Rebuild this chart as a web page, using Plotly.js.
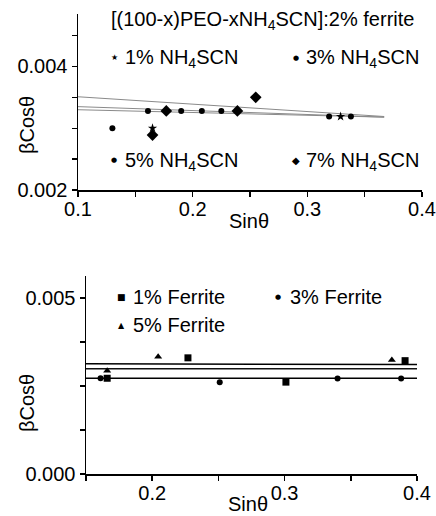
<!DOCTYPE html>
<html><head><meta charset="utf-8">
<script src="https://cdn.plot.ly/plotly-3.0.1.min.js"></script>
<style>html,body{margin:0;padding:0;background:#fff}</style>
</head><body><div id="c" style="width:436px;height:516px"></div>
<script>
// ---- Top panel data: [(100-x)PEO-xNH4SCN]:2% ferrite ----
const nh1_x = [0.165, 0.329];
const nh1_y = [0.00300, 0.00319];
const nh3_x = [0.130, 0.161, 0.190, 0.225, 0.319];
const nh3_y = [0.00300, 0.00328, 0.00328, 0.00328, 0.00319];
const nh5_x = [0.177, 0.208, 0.239, 0.338];
const nh5_y = [0.00328, 0.00328, 0.00328, 0.00319];
const nh7_x = [0.165, 0.177, 0.239, 0.255];
const nh7_y = [0.00289, 0.00328, 0.00328, 0.00350];
const fitTop_x = [0.100, 0.367];
const fitTopA_y = [0.00351, 0.00319];
const fitTopB_y = [0.00335, 0.00318];
const fitTopC_y = [0.00330, 0.00318];
const topXTicks = [0.1, 0.2, 0.3, 0.4];
const topXText = ['0.1', '0.2', '0.3', '0.4'];
const topXMinor = [0.15, 0.25, 0.35];
const topYTicks = [0.002, 0.004];
const topYText = ['0.002', '0.004'];
const topYMinor = [0.0025, 0.003, 0.0035, 0.0045];

// ---- Bottom panel data: ferrite content ----
const fe1_x = [0.166, 0.227, 0.301, 0.391];
const fe1_y = [0.00272, 0.00330, 0.00261, 0.00322];
const fe3_x = [0.161, 0.251, 0.340, 0.388];
const fe3_y = [0.00272, 0.00261, 0.00271, 0.00271];
const fe5_x = [0.166, 0.2045, 0.381];
const fe5_y = [0.00293, 0.00333, 0.00324];
const fitBot_x = [0.15, 0.40];
const fitBotA_y = [0.00313, 0.00311];
const fitBotB_y = [0.00299, 0.00299];
const fitBotC_y = [0.00272, 0.00272];
const botXTicks = [0.2, 0.3, 0.4];
const botXText = ['0.2', '0.3', '0.4'];
const botXMinor = [0.15, 0.25, 0.35];
const botYTicks = [0, 0.005];
const botYText = ['0.000', '0.005'];
const botYMinor = [0.00125, 0.0025, 0.00375];

const W = 436, H = 516;
const FONT = 'Liberation Sans, Arial, Helvetica, sans-serif';
const px = v => v / W;
const py = v => (H - v) / H;

function pts(x, y, xa, ya, sym, size) {
  return {x, y, xaxis: xa, yaxis: ya, type: 'scatter', mode: 'markers', cliponaxis: false,
    marker: {symbol: sym, size: size, color: '#000', line: {width: 0}}, showlegend: false};
}
function fit(x, y, xa, ya, color, w) {
  return {x, y, xaxis: xa, yaxis: ya, type: 'scatter', mode: 'lines',
    line: {color: color, width: w}, showlegend: false, hoverinfo: 'skip'};
}

const traces = [
  fit(fitTop_x, fitTopA_y, 'x', 'y', '#8a8a8a', 1),
  fit(fitTop_x, fitTopB_y, 'x', 'y', '#8a8a8a', 1),
  fit(fitTop_x, fitTopC_y, 'x', 'y', '#8a8a8a', 1),
  pts(nh3_x, nh3_y, 'x', 'y', 'circle', 6),
  pts(nh5_x, nh5_y, 'x', 'y', 'circle', 6),
  pts(nh7_x, nh7_y, 'x', 'y', 'diamond', 9),
  pts(nh1_x, nh1_y, 'x', 'y', 'star', 7),
  fit(fitBot_x, fitBotA_y, 'x2', 'y2', '#000', 1.5),
  fit(fitBot_x, fitBotB_y, 'x2', 'y2', '#111', 1.5),
  fit(fitBot_x, fitBotC_y, 'x2', 'y2', '#000', 1.5),
  pts(fe1_x, fe1_y, 'x2', 'y2', 'square', 7),
  pts(fe3_x, fe3_y, 'x2', 'y2', 'circle', 6),
  pts(fe5_x, fe5_y, 'x2', 'y2', 'triangle-up', 7),
];

function axis(minorVals, extra) {
  return Object.assign({
    showgrid: false, zeroline: false, showline: true, linecolor: '#000', linewidth: 1.5,
    ticks: 'outside', ticklen: 5, tickwidth: 1.5, tickcolor: '#000',
    tickmode: 'array', tickfont: {family: FONT, size: 20, color: '#000'}, fixedrange: true,
    minor: {tickmode: 'array', tickvals: minorVals, ticks: 'outside', ticklen: 5,
      tickwidth: 1.5, tickcolor: '#000', showgrid: false}
  }, extra);
}

const tf = {family: FONT, size: 20, color: '#000'};
function txt(x, y, text, opts) {
  return Object.assign({xref: 'paper', yref: 'paper', x: px(x), y: py(y), text: text,
    showarrow: false, xanchor: 'left', yanchor: 'middle', font: tf}, opts || {});
}
function sym(x, y, ch, size) {
  return {xref: 'paper', yref: 'paper', x: px(x), y: py(y), text: ch, showarrow: false,
    xanchor: 'center', yanchor: 'middle', font: {family: 'DejaVu Sans', size: size, color: '#000'}};
}

const annotations = [
  txt(109, 21, '[(100-x)PEO-xNH<sub>4</sub>SCN]:2% ferrite'),
  sym(114, 58, '★', 8), txt(123, 59, '1% NH<sub>4</sub>SCN'),
  sym(296, 58, '●', 7), txt(304, 59, '3% NH<sub>4</sub>SCN'),
  sym(114, 160, '●', 7), txt(123, 161, '5% NH<sub>4</sub>SCN'),
  sym(296, 160, '◆', 10), txt(304, 161, '7% NH<sub>4</sub>SCN'),
  txt(27, 125, 'βCosθ', {xanchor: 'center', textangle: -90}),
  txt(249, 221, 'Sinθ', {xanchor: 'center'}),
  sym(121, 297, '■', 9), txt(131, 297, '1% Ferrite'),
  sym(278, 297, '●', 7), txt(288, 297, '3% Ferrite'),
  sym(121, 325, '▲', 8), txt(131, 325, '5% Ferrite'),
  txt(27, 403, 'βCosθ', {xanchor: 'center', textangle: -90}),
  txt(248, 504, 'Sinθ', {xanchor: 'center'}),
];

const layout = {
  width: W, height: H, margin: {l: 0, r: 0, t: 0, b: 0},
  paper_bgcolor: '#fff', plot_bgcolor: '#fff', showlegend: false,
  font: {family: FONT, color: '#000'},
  xaxis: axis(topXMinor, {domain: [px(78), px(422)], range: [0.1, 0.4], anchor: 'y',
    tickvals: topXTicks, ticktext: topXText, ticklabelstandoff: -5}),
  yaxis: axis(topYMinor, {domain: [py(190), py(14)], range: [0.002, 0.00485], anchor: 'x',
    tickvals: topYTicks, ticktext: topYText}),
  xaxis2: axis(botXMinor, {domain: [px(86), px(417)], range: [0.15, 0.4], anchor: 'y2',
    tickvals: botXTicks, ticktext: botXText, ticklabelstandoff: -5}),
  yaxis2: axis(botYMinor, {domain: [py(474), py(276)], range: [0, 0.005625], anchor: 'x2',
    tickvals: botYTicks, ticktext: botYText}),
  annotations: annotations
};

Plotly.newPlot('c', traces, layout, {staticPlot: true, displayModeBar: false});
</script></body></html>
